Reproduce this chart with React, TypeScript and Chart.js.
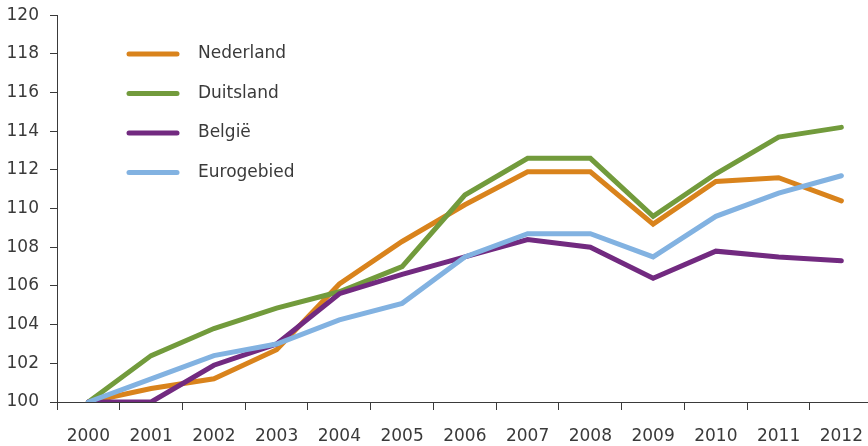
import React, { useEffect, useRef } from "react";
import { Chart, registerables } from "chart.js";

Chart.register(...registerables);

const years = ["2000", "2001", "2002", "2003", "2004", "2005", "2006", "2007", "2008", "2009", "2010", "2011", "2012"];
const nederland = [100, 100.7, 101.2, 102.7, 106.1, 108.3, 110.2, 111.9, 111.9, 109.2, 111.4, 111.6, 110.4];
const duitsland = [100, 102.4, 103.8, 104.85, 105.7, 107.0, 110.7, 112.6, 112.6, 109.6, 111.8, 113.7, 114.2];
const belgie = [100, 100, 101.9, 103.0, 105.6, 106.6, 107.5, 108.4, 108.0, 106.4, 107.8, 107.5, 107.3];
const eurogebied = [100, 101.2, 102.4, 103.0, 104.25, 105.1, 107.5, 108.7, 108.7, 107.5, 109.6, 110.8, 111.7];

const FONT = "'DejaVu Sans', sans-serif";
const TEXT = "#3a3a3a";
const SHIFT = 6;

const legendPlugin = {
  id: "insideLegend",
  afterDraw(chart: any) {
    const ctx = chart.ctx;
    ctx.save();
    chart.data.datasets.forEach((ds: any, i: number) => {
      const y = SHIFT + 54 + i * 39.5;
      ctx.strokeStyle = ds.borderColor;
      ctx.lineWidth = 5;
      ctx.lineCap = "round";
      ctx.beginPath();
      ctx.moveTo(129, y);
      ctx.lineTo(177, y);
      ctx.stroke();
      ctx.fillStyle = TEXT;
      ctx.font = "17px " + FONT;
      ctx.textBaseline = "middle";
      ctx.textAlign = "left";
      ctx.fillText(ds.label, 198, y);
    });
    ctx.restore();
  },
};

export default function App() {
  const ref = useRef<HTMLCanvasElement>(null);
  useEffect(() => {
    if (!ref.current) return;
    const mk = (label: string, data: number[], color: string, order: number) => ({
      label,
      data,
      borderColor: color,
      backgroundColor: color,
      borderWidth: 5,
      pointRadius: 0,
      tension: 0,
      order,
      borderCapStyle: "round" as const,
      borderJoinStyle: "miter" as const,
    });
    const chart = new Chart(ref.current, {
      type: "line",
      data: {
        labels: years,
        datasets: [
          mk("Nederland", nederland, "#D9831C", 3),
          mk("Duitsland", duitsland, "#729B3C", 2),
          mk("België", belgie, "#722A80", 1),
          mk("Eurogebied", eurogebied, "#82B2E1", 0),
        ],
      },
      options: {
        animation: false,
        responsive: false,
        devicePixelRatio: 1,
        layout: { padding: { top: 8, left: 0, right: 0, bottom: 0 } },
        plugins: { legend: { display: false }, tooltip: { enabled: false } },
        scales: {
          x: {
            type: "category",
            offset: true,
            grid: { offset: true, drawOnChartArea: false, drawTicks: true, tickLength: 8, color: TEXT },
            border: { color: TEXT, width: 1 },
            ticks: { color: TEXT, font: { family: FONT, size: 17 }, padding: 16, maxRotation: 0, autoSkip: false },
            afterFit: (s: any) => { s.height = 44; },
          },
          y: {
            min: 100,
            max: 120,
            grid: { drawOnChartArea: false, drawTicks: true, tickLength: 7, color: TEXT },
            border: { color: TEXT, width: 1 },
            ticks: { stepSize: 2, color: TEXT, font: { family: FONT, size: 17 }, padding: 11 },
            afterFit: (s: any) => { s.width = 57; },
          },
        },
      },
      plugins: [legendPlugin],
    });
    return () => chart.destroy();
  }, []);
  return (
    <div style={{ position: "absolute", left: 0, top: 0, width: 868, height: 446, overflow: "hidden", background: "#fff" }}>
      <canvas ref={ref} width={879} height={446 + SHIFT} style={{ display: "block", marginTop: -SHIFT }} />
    </div>
  );
}
